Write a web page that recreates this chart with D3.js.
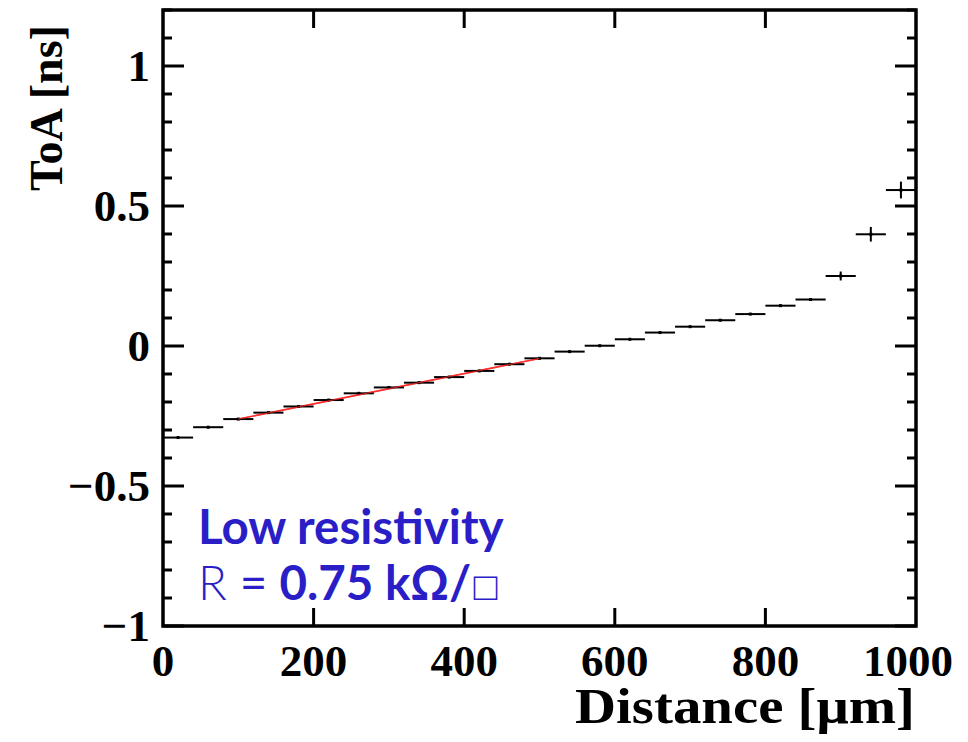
<!DOCTYPE html>
<html>
<head>
<meta charset="utf-8">
<script src="https://cdn.jsdelivr.net/npm/d3@7"></script>
<style>
  html, body { margin: 0; padding: 0; background: #ffffff; }
  svg { display: block; }
</style>
</head>
<body>
<svg id="chart" width="968" height="742"></svg>
<script>
// ---- data ----
const binCenters = [20, 60, 100, 140, 180, 220, 260, 300, 340, 380, 420, 460, 500,
                    540, 580, 620, 660, 700, 740, 780, 820, 860, 900, 940, 980];
const binHalfWidth = 20;
const toaValues = [-0.327, -0.290, -0.261, -0.238, -0.216, -0.193, -0.169, -0.148, -0.131,
                   -0.111, -0.089, -0.065, -0.044, -0.020, 0.001, 0.024, 0.048, 0.069,
                   0.092, 0.114, 0.144, 0.166, 0.250, 0.399, 0.557];
const toaErrors = [0.004, 0.004, 0.003, 0.003, 0.003, 0.003, 0.003, 0.003, 0.003,
                   0.003, 0.003, 0.003, 0.003, 0.003, 0.003, 0.003, 0.003, 0.003,
                   0.003, 0.003, 0.004, 0.005, 0.016, 0.026, 0.030];
const fitRange = [100, 500];
const fitIntercept = -0.315;
const fitSlope = 0.000541;
const xTicks = [0, 200, 400, 600, 800, 1000];
const yTicks = [-1, -0.5, 0, 0.5, 1];
const yMinorTicks = d3.range(-10, 13).map(i => i / 10);
const xLabel = "Distance [\u03bcm]";
const yLabel = "ToA [ns]";
const noteLine1 = "Low resistivity";

// ---- layout ----
const svg = d3.select("#chart");
const L = 163, R = 916, T = 10, B = 626;
const x = d3.scaleLinear().domain([0, 1000]).range([L, R]);
const y = d3.scaleLinear().domain([-1, 1.2]).range([B, T]);

const serif = "'Liberation Serif', 'Times New Roman', serif";

// fit line (drawn beneath the points)
svg.append("line")
  .attr("x1", x(fitRange[0])).attr("y1", y(fitIntercept + fitSlope * fitRange[0]))
  .attr("x2", x(fitRange[1])).attr("y2", y(fitIntercept + fitSlope * fitRange[1]))
  .attr("stroke", "#ff2a2a").attr("stroke-width", 1.6);

// points with error bars
const pts = svg.append("g");
binCenters.forEach((c, i) => {
  const v = toaValues[i], e = toaErrors[i];
  pts.append("line")
    .attr("x1", x(c - binHalfWidth)).attr("x2", x(c + binHalfWidth))
    .attr("y1", y(v)).attr("y2", y(v))
    .attr("stroke", "#000").attr("stroke-width", 2);
  pts.append("line")
    .attr("x1", x(c)).attr("x2", x(c))
    .attr("y1", y(v - e)).attr("y2", y(v + e))
    .attr("stroke", "#000").attr("stroke-width", 2);
  pts.append("rect")
    .attr("x", x(c) - 1.5).attr("y", y(v) - 1.5)
    .attr("width", 3).attr("height", 3).attr("fill", "#000");
});

// fit line overlay (thin, so it shows over the bins like the reference)
svg.append("line")
  .attr("x1", x(fitRange[0])).attr("y1", y(fitIntercept + fitSlope * fitRange[0]))
  .attr("x2", x(fitRange[1])).attr("y2", y(fitIntercept + fitSlope * fitRange[1]))
  .attr("stroke", "#ff3030").attr("stroke-width", 1.2).attr("stroke-opacity", 0.7);

// ticks
const tk = svg.append("g").attr("stroke", "#000").attr("stroke-width", 3);
yMinorTicks.forEach(t => {
  const major = yTicks.some(m => Math.abs(m - t) < 1e-9);
  const len = major ? 21 : 9;
  tk.append("line").attr("x1", L).attr("x2", L + len).attr("y1", y(t)).attr("y2", y(t));
  tk.append("line").attr("x1", R).attr("x2", R - len).attr("y1", y(t)).attr("y2", y(t));
});
xTicks.forEach(t => {
  if (t === 0 || t === 1000) return;
  tk.append("line").attr("x1", x(t)).attr("x2", x(t)).attr("y1", B).attr("y2", B - 18);
  tk.append("line").attr("x1", x(t)).attr("x2", x(t)).attr("y1", T).attr("y2", T + 18);
});

// frame
svg.append("rect")
  .attr("x", L).attr("y", T).attr("width", R - L).attr("height", B - T)
  .attr("fill", "none").attr("stroke", "#000").attr("stroke-width", 3.5);

// tick labels
const fmtY = d => (d < 0 ? "\u2212" : "") + String(Math.abs(d));
svg.append("g").selectAll("text").data(yTicks).join("text")
  .attr("x", 150).attr("y", d => y(d) + 15)
  .attr("text-anchor", "end")
  .attr("font-family", serif).attr("font-weight", "bold").attr("font-size", 45)
  .text(fmtY);
svg.append("g").selectAll("text").data(xTicks).join("text")
  .attr("x", d => x(d)).attr("y", 676)
  .attr("text-anchor", "middle")
  .attr("dx", d => d === 1000 ? -8 : 0)
  .attr("font-family", serif).attr("font-weight", "bold").attr("font-size", 45)
  .text(d => String(d));

// axis titles
svg.append("text")
  .attr("x", 575).attr("y", 723)
  .attr("textLength", 340).attr("lengthAdjust", "spacingAndGlyphs")
  .attr("font-family", serif).attr("font-weight", "bold").attr("font-size", 50)
  .text(xLabel);
svg.append("text")
  .attr("transform", "translate(62,108) rotate(-90)")
  .attr("text-anchor", "middle")
  .attr("font-family", serif).attr("font-weight", "bold").attr("font-size", 46)
  .text(yLabel);

// annotation
const blue = "#2a1fc6";
svg.append("text")
  .attr("x", 198).attr("y", 544)
  .attr("font-family", "Lato, 'Noto Sans', sans-serif").attr("font-weight", "bold")
  .attr("font-size", 47.5).attr("fill", blue)
  .text(noteLine1);
const t2 = svg.append("text")
  .attr("x", 198).attr("y", 600)
  .attr("font-family", "Lato, 'Noto Sans', sans-serif")
  .attr("font-size", 47.5).attr("fill", blue);
t2.append("tspan").attr("font-weight", "300").text("R ");
t2.append("tspan").attr("font-weight", "normal").text("= ");
t2.append("tspan").attr("font-weight", "bold").text("0.75 k\u03a9/");
t2.append("tspan").attr("font-weight", "300").text("\u25a1");
</script>
</body>
</html>
